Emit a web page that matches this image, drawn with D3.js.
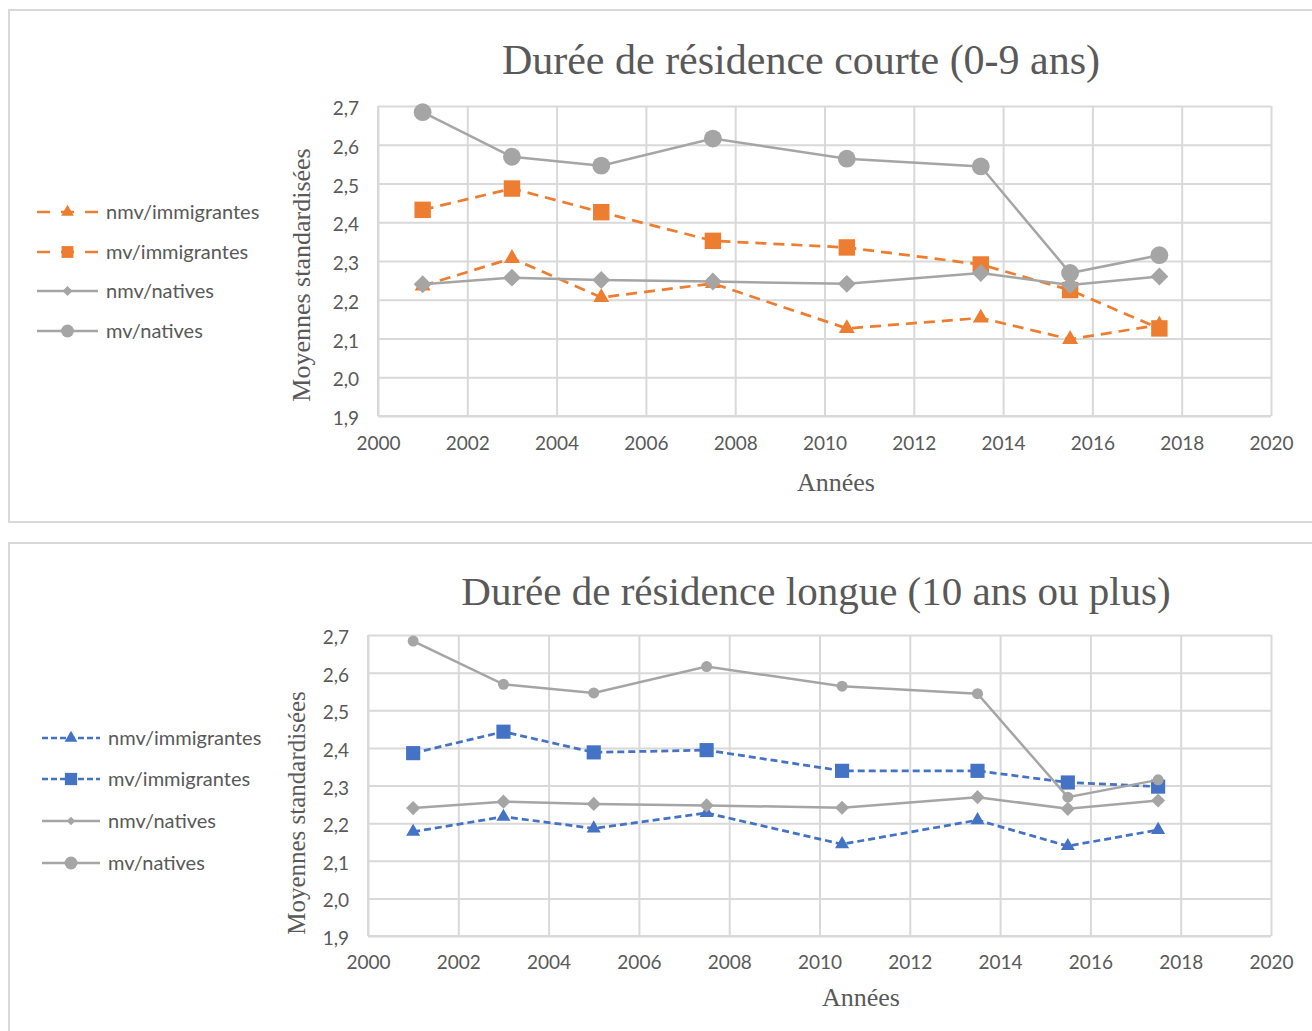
<!DOCTYPE html>
<html>
<head>
<meta charset="utf-8">
<script src="https://cdn.jsdelivr.net/npm/d3@7"></script>
<style>
  body { margin: 0; background: #fff; }
  svg { display: block; }
</style>
</head>
<body>
<svg id="chart" width="1312" height="1031"></svg>
<script>
"use strict";

// years of survey waves (x values)
const years = [2001, 2003, 2005, 2007.5, 2010.5, 2013.5, 2015.5, 2017.5];
const xTicks = [2000, 2002, 2004, 2006, 2008, 2010, 2012, 2014, 2016, 2018, 2020];
const yTicks = [1.9, 2.0, 2.1, 2.2, 2.3, 2.4, 2.5, 2.6, 2.7];

const seriesNames = ["nmv/immigrantes", "mv/immigrantes", "nmv/natives", "mv/natives"];

// natives (same in both panels)
const nativesNmv = [2.240, 2.257, 2.251, 2.247, 2.241, 2.269, 2.238, 2.260];
const nativesMv = [2.684, 2.569, 2.546, 2.616, 2.564, 2.544, 2.269, 2.315];

// short residence (0-9 years)
const courteNmv = [2.236, 2.307, 2.206, 2.242, 2.126, 2.153, 2.098, 2.135];
const courteMv = [2.432, 2.487, 2.426, 2.352, 2.335, 2.291, 2.225, 2.126];

// long residence (10 years or more)
const longueNmv = [2.177, 2.217, 2.186, 2.227, 2.144, 2.208, 2.139, 2.182];
const longueMv = [2.386, 2.443, 2.388, 2.394, 2.339, 2.339, 2.308, 2.297];

const ORANGE = "#ED7D31", BLUE = "#4472C4", GRAY = "#A5A5A5", TEXT = "#595959", GRID = "#D9D9D9";
const SERIF = "'Liberation Serif', 'Times New Roman', serif";
const SANS = "Lato, 'Open Sans', sans-serif";

const svg = d3.select("#chart");

function makePanel(cfg) {
    const g = svg.append("g");

    // chart border
    g.append("rect")
        .attr("x", 9).attr("y", cfg.boxTop)
        .attr("width", 1320).attr("height", cfg.boxHeight)
        .attr("fill", "none").attr("stroke", GRID).attr("stroke-width", 2);

    const x = d3.scaleLinear().domain([2000, 2020]).range([cfg.left, cfg.right]);
    const y = d3.scaleLinear().domain([1.9, 2.7]).range([cfg.bottom, cfg.top]);
    const fmt = d => d3.format(".1f")(d).replace(".", ",");

    // gridlines + ticks
    const yAxis = g.append("g")
        .attr("transform", "translate(" + cfg.left + ",0)")
        .call(d3.axisLeft(y).tickValues(yTicks).tickFormat(fmt)
            .tickSizeInner(-(cfg.right - cfg.left)).tickSizeOuter(0).tickPadding(19));
    yAxis.selectAll("text").attr("dy", "0.45em");
    const xAxis = g.append("g")
        .attr("transform", "translate(0," + cfg.bottom + ")")
        .call(d3.axisBottom(x).tickValues(xTicks).tickFormat(d3.format("d"))
            .tickSizeInner(-(cfg.bottom - cfg.top)).tickSizeOuter(0).tickPadding(cfg.xPad));
    [xAxis, yAxis].forEach(a => {
        a.select(".domain").remove();
        a.selectAll("line").attr("stroke", GRID).attr("stroke-width", 2);
        a.selectAll("text")
            .attr("fill", TEXT)
            .style("font-family", SANS)
            .style("font-size", "19px");
    });
    // box edges
    g.append("line").attr("x1", cfg.left).attr("x2", cfg.left)
        .attr("y1", cfg.top).attr("y2", cfg.bottom)
        .attr("stroke", GRID).attr("stroke-width", 2);
    g.append("line").attr("x1", cfg.left).attr("x2", cfg.right)
        .attr("y1", cfg.bottom).attr("y2", cfg.bottom)
        .attr("stroke", GRID).attr("stroke-width", 2);

    // titles
    g.append("text")
        .attr("x", cfg.titleX).attr("y", cfg.titleY)
        .attr("text-anchor", "middle")
        .attr("fill", TEXT)
        .style("font-family", SERIF)
        .style("font-size", cfg.titleSize + "px")
        .text(cfg.title);
    g.append("text")
        .attr("transform", "translate(" + cfg.yTitleX + "," + cfg.yTitleY + ") rotate(-90)")
        .attr("text-anchor", "middle")
        .attr("fill", TEXT)
        .style("font-family", SERIF)
        .style("font-size", cfg.yTitleSize + "px")
        .text("Moyennes standardisées");
    g.append("text")
        .attr("x", cfg.xTitleX).attr("y", cfg.xTitleY)
        .attr("text-anchor", "middle")
        .attr("fill", TEXT)
        .style("font-family", SERIF)
        .style("font-size", "26px")
        .text("Années");

    const series = [
        {name: seriesNames[0], vals: cfg.nmv, color: cfg.color, dash: cfg.dash, sym: "triangle"},
        {name: seriesNames[1], vals: cfg.mv, color: cfg.color, dash: cfg.dash, sym: "square"},
        {name: seriesNames[2], vals: nativesNmv, color: GRAY, dash: null, sym: "diamond"},
        {name: seriesNames[3], vals: nativesMv, color: GRAY, dash: null, sym: "circle"}
    ];

    const line = d3.line().x((d, i) => x(years[i])).y(d => y(d));

    function symbolPath(kind, s) {
        if (kind === "triangle") return d3.symbol(d3.symbolTriangle, s.tri)();
        if (kind === "square") return d3.symbol(d3.symbolSquare, s.sq)();
        if (kind === "diamond") return d3.symbol(d3.symbolSquare, s.dia)();
        return d3.symbol(d3.symbolCircle, s.circ)();
    }

    series.forEach(s => {
        g.append("path")
            .datum(s.vals)
            .attr("d", line)
            .attr("fill", "none")
            .attr("stroke", s.color)
            .attr("stroke-width", s.dash ? cfg.dashWidth : 2.5)
            .attr("stroke-dasharray", s.dash);
        g.selectAll(null)
            .data(s.vals)
            .enter()
            .append("path")
            .attr("transform", (d, i) => "translate(" + x(years[i]) + "," + y(d) + ")" +
                (s.sym === "diamond" ? " rotate(45)" : ""))
            .attr("d", symbolPath(s.sym, cfg.marker))
            .attr("fill", s.color);
    });

    // legend
    series.forEach((s, i) => {
        const ly = cfg.legendY[i];
        const lg = g.append("g");
        lg.append("line")
            .attr("x1", cfg.legendX).attr("x2", cfg.legendX + cfg.legendLen)
            .attr("y1", ly).attr("y2", ly)
            .attr("stroke", s.color)
            .attr("stroke-width", 2.5)
            .attr("stroke-dasharray", s.dash ? cfg.legendDash : null);
        lg.append("path")
            .attr("transform", "translate(" + (cfg.legendX + cfg.legendLen / 2) + "," + ly + ")" +
                (s.sym === "diamond" ? " rotate(45)" : ""))
            .attr("d", symbolPath(s.sym, cfg.legendMarker))
            .attr("fill", s.color);
        lg.append("text")
            .attr("x", cfg.legendX + cfg.legendLen + 8)
            .attr("y", ly)
            .attr("dy", "0.35em")
            .attr("fill", TEXT)
            .style("font-family", SANS)
            .style("font-size", "20px")
            .text(s.name);
    });
}

makePanel({
    boxTop: 10, boxHeight: 512,
    left: 378, right: 1271, top: 106, bottom: 416, xPad: 21,
    title: "Durée de résidence courte (0-9 ans)", titleX: 801, titleY: 74, titleSize: 42,
    yTitleX: 310, yTitleY: 275, yTitleSize: 26, xTitleX: 836, xTitleY: 491,
    nmv: courteNmv, mv: courteMv, color: ORANGE, dash: "11,7", dashWidth: 2.75,
    marker: {tri: 110, sq: 270, dia: 160, circ: 250},
    legendX: 37, legendLen: 61, legendY: [212, 252, 291, 331],
    legendDash: "13,11",
    legendMarker: {tri: 70, sq: 140, dia: 50, circ: 130}
});

makePanel({
    boxTop: 543, boxHeight: 520,
    left: 368, right: 1271, top: 635, bottom: 936, xPad: 20,
    title: "Durée de résidence longue (10 ans ou plus)", titleX: 816, titleY: 605, titleSize: 41,
    yTitleX: 305, yTitleY: 813, yTitleSize: 25, xTitleX: 861, xTitleY: 1006,
    nmv: longueNmv, mv: longueMv, color: BLUE, dash: "7,4", dashWidth: 2.75,
    marker: {tri: 85, sq: 200, dia: 100, circ: 95},
    legendX: 42, legendLen: 58, legendY: [738, 779, 821, 863],
    legendDash: "6,3",
    legendMarker: {tri: 70, sq: 150, dia: 35, circ: 130}
});
</script>
</body>
</html>
